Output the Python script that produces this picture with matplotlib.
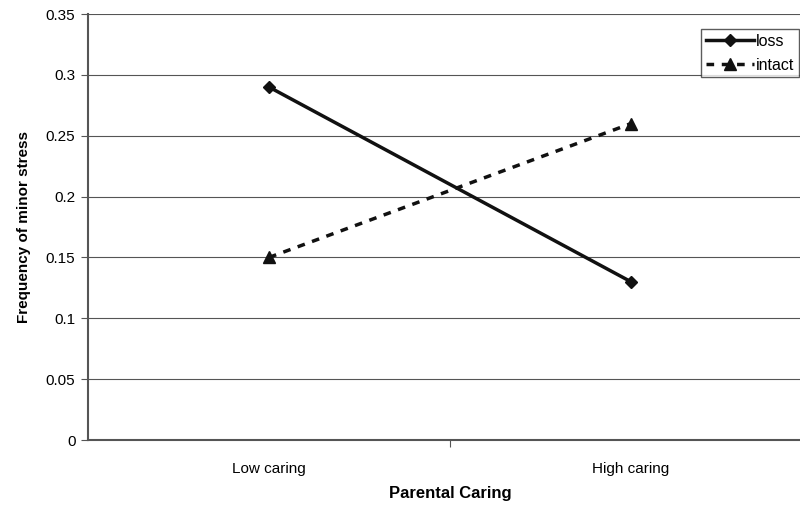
import matplotlib
matplotlib.use("Agg")
import matplotlib.pyplot as plt

categories = ["Low caring", "High caring"]
loss = [0.29, 0.13]
intact = [0.15, 0.26]
yticks = [0, 0.05, 0.1, 0.15, 0.2, 0.25, 0.3, 0.35]

plt.rcParams['font.family'] = ['Liberation Sans', 'DejaVu Sans']

fig = plt.figure(figsize=(8.0, 5.08), dpi=100)
W, H = 800, 508
left, right, top, bottom = 88, 812, 14, 440
ax = fig.add_axes([left / W, 1 - bottom / H, (right - left) / W, (bottom - top) / H])

x = [0.5, 1.5]
ax.plot(x, loss, color="#111111", lw=2.5, marker="D", ms=6, label="loss", clip_on=False)
ax.plot(x, intact, color="#111111", lw=2.5, ls=(0, (2.2, 2.2)), marker="^", ms=8, label="intact", clip_on=False)

ax.set_xlim(0, 2)
ax.set_ylim(0, 0.35)
ax.set_yticks(yticks)
ax.set_yticklabels([f"{v:g}" for v in yticks], fontsize=11)
ax.set_xticks([1.0], minor=False)
ax.set_xticklabels([""])
ax.set_xticks(x, minor=True)
ax.set_xticklabels(categories, minor=True, fontsize=11)
ax.tick_params(axis="x", which="minor", length=0, pad=16)
ax.tick_params(axis="x", which="major", length=5, color="#555555", direction="out")
ax.tick_params(axis="y", length=5, color="#555555", direction="out", pad=4)

ax.yaxis.grid(True, color="#555555", lw=0.8)
ax.set_axisbelow(True)
for s in ["top", "right"]:
    ax.spines[s].set_visible(False)
for s in ["left", "bottom"]:
    ax.spines[s].set_color("#555555")
    ax.spines[s].set_linewidth(1.5)

ax.set_xlabel("Parental Caring", fontsize=12, fontweight="bold", labelpad=7)
ax.set_ylabel("Frequency of minor stress", fontsize=11, fontweight="bold", labelpad=11)

leg = fig.legend(loc="upper left", bbox_to_anchor=(701 / W, 1 - 29 / H), frameon=True,
                 fancybox=False, edgecolor="#333333", fontsize=11.5, handlelength=3.0,
                 handletextpad=0.15, borderpad=0.3, labelspacing=0.55, borderaxespad=0)
leg.get_frame().set_linewidth(1.0)

fig.savefig("out.png", dpi=100)
